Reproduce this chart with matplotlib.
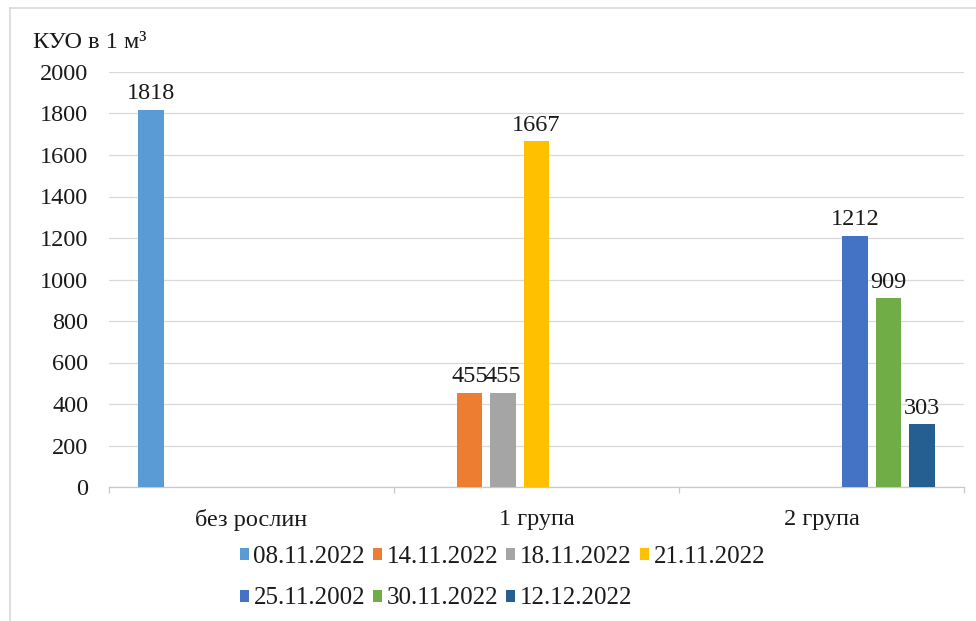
import numpy as np
import matplotlib
matplotlib.use("Agg")
import matplotlib.pyplot as plt
from matplotlib.lines import Line2D
from matplotlib.patches import Patch

categories = ["без рослин", "1 група", "2 група"]
series_names = ["08.11.2022", "14.11.2022", "18.11.2022", "21.11.2022",
                "25.11.2002", "30.11.2022", "12.12.2022"]
s_0811 = [1818, 0, 0]
s_1411 = [0, 455, 0]
s_1811 = [0, 455, 0]
s_2111 = [0, 1667, 0]
s_2511 = [0, 0, 1212]
s_3011 = [0, 0, 909]
s_1212 = [0, 0, 303]
series_values = [s_0811, s_1411, s_1811, s_2111, s_2511, s_3011, s_1212]
colors = ["#5B9BD5", "#ED7D31", "#A5A5A5", "#FFC000", "#4472C4", "#70AD47", "#255E91"]
y_title = "КУО в 1 м³"
yticks = [0, 200, 400, 600, 800, 1000, 1200, 1400, 1600, 1800, 2000]

plt.rcParams['font.family'] = ['Liberation Serif', 'DejaVu Serif']
txt_color = "#1a1a1a"
fs = 17.5
lfs = 18

W, H = 976, 621
fig = plt.figure(figsize=(W / 100, H / 100), dpi=100)
ax = fig.add_axes([109 / W, (H - 487) / H, (964 - 109) / W, (487 - 72) / H])

x = np.arange(len(categories))
slot = 0.1177
bw = 0.09
n = len(series_values)
for i, (vals, c) in enumerate(zip(series_values, colors)):
    off = (i - (n - 1) / 2) * slot
    for xi, v in zip(x, vals):
        if v:
            ax.bar(xi + off, v, width=bw, color=c, zorder=3)
            ax.annotate(str(v), (xi + off, v), xytext=(0, 4), textcoords="offset points",
                        ha="center", va="bottom", fontsize=fs, color=txt_color)

ax.set_xlim(-0.5, len(categories) - 0.5)
ax.set_ylim(0, 2000)
ax.set_yticks(yticks)
ax.set_yticklabels([str(t) for t in yticks])
ax.grid(axis='y', color="#d9d9d9", linewidth=0.9, zorder=0)
ax.set_axisbelow(True)
for s in ["top", "right", "left"]:
    ax.spines[s].set_visible(False)
ax.spines["bottom"].set_color("#c8c8c8")
ax.spines["bottom"].set_linewidth(0.9)
ax.tick_params(axis='y', length=0, pad=15, labelsize=fs, labelcolor=txt_color)
ax.set_xticks(x)
ax.set_xticklabels(categories)
ax.tick_params(axis='x', which='major', length=0, pad=16, labelsize=fs, labelcolor=txt_color)
ax.set_xticks(np.arange(-0.5, len(categories), 1.0), minor=True)
ax.tick_params(axis='x', which='minor', length=4, width=0.9, color="#c8c8c8")

fig.text(33 / W, 1 - 42 / H, y_title, fontsize=fs, color=txt_color, ha="left", va="center")

handles = [Patch(facecolor=c, edgecolor='none') for c in colors]
order = [0, 4, 1, 5, 2, 6, 3]
leg = fig.legend([handles[i] for i in order], [series_names[i] for i in order],
                 ncol=4, loc="upper left", bbox_to_anchor=(240 / W, 1 - 546 / H),
                 frameon=False, fontsize=lfs, handlelength=0.36, handleheight=0.36,
                 handletextpad=0.18, columnspacing=0.32, labelspacing=0.78, borderpad=0,
                 borderaxespad=0)
for t in leg.get_texts():
    t.set_color(txt_color)

fig.add_artist(Line2D([10 / W, 1], [1 - 8 / H, 1 - 8 / H], color="#d9d9d9", linewidth=1.2))
fig.add_artist(Line2D([10 / W, 10 / W], [0, 1 - 8 / H], color="#d9d9d9", linewidth=1.2))

fig.savefig("out.png", dpi=100)
